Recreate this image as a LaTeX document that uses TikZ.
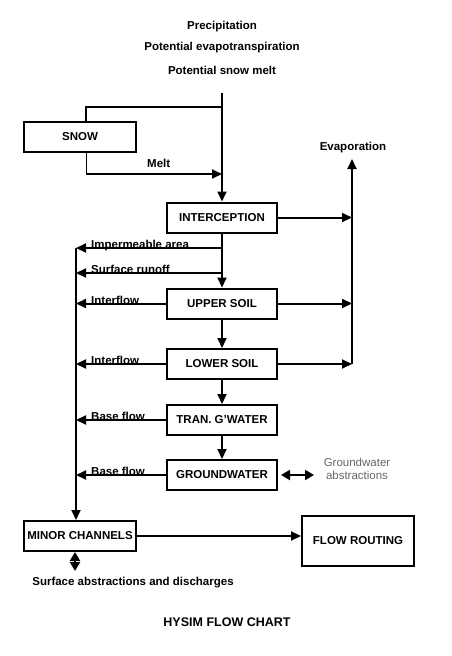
\documentclass[tikz,border=0pt]{standalone}
\usepackage{fontspec}
\setmainfont{Liberation Sans}
\usepackage{xcolor}
\usepackage{tikz}
\usetikzlibrary{arrows.meta}

\begin{document}
\begin{tikzpicture}[x=1pt,y=-1pt]
		\tikzstyle{every node}=[font=\fontsize{11.5}{13}\selectfont\bfseries]
		\tikzstyle{box}=[draw, line width=2pt, minimum width=110pt, minimum height=30pt, inner sep=0pt]
		\tikzstyle{flow}=[line width=2pt, -{Triangle[length=10pt,width=9pt]}]
		\tikzstyle{both}=[line width=2pt, {Triangle[length=9pt,width=10pt]}-{Triangle[length=9pt,width=10pt]}]
		\tikzstyle{lbl}=[inner sep=0pt, anchor=base west]
		\useasboundingbox (0,0) rectangle (452,656);

		\node (precip) at (222,27) {Precipitation};
		\node (pet) at (222,48) {Potential evapotranspiration};
		\node (psm) at (222,70) {Potential snow melt};

		\node [box, minimum width=112pt] (snow) at (80,137) {SNOW};
		\node [box] (intercept) at (222,217.5) {INTERCEPTION};
		\node [box] (upper) at (222,303.5) {UPPER SOIL};
		\node [box] (lower) at (222,364) {LOWER SOIL};
		\node [box] (tran) at (222,420) {TRAN. G'WATER};
		\node [box] (ground) at (222,475) {GROUNDWATER};
		\node [box, minimum width=112pt] (minor) at (80,536) {MINOR CHANNELS};
		\node [box, minimum width=112pt, minimum height=50pt] (routing) at (358,541) {FLOW ROUTING};

		\coordinate (top) at (222,93);
		\coordinate (split) at (222,107);
		\coordinate (evap) at (352,159);
		\coordinate (coll) at (76,248);
		\coordinate (imp) at (222,248);
		\coordinate (sro) at (222,273);

		\draw [flow] (top) -- (intercept);
		\draw [line width=2pt] (split) -| ([xshift=6]snow.north);
		\draw [line width=1pt] ([xshift=6]snow.south) -- ++(0,21) coordinate (meltc);
		\draw [flow] (meltc) -- (meltc -| top);
		\node [lbl] (melt) at (147,167) {Melt};

		\draw [flow] (lower -| evap) -- (evap);
		\node (evaptxt) at (353,148) {Evaporation};
		\draw [flow] (intercept) -- (intercept -| evap);
		\draw [flow] (upper) -- (upper -| evap);
		\draw [flow] (lower) -- (lower -| evap);

		\draw [flow] (intercept) -- (upper);
		\draw [flow] (upper) -- (lower);
		\draw [flow] (lower) -- (tran);
		\draw [flow] (tran) -- (ground);

		\draw [flow] (imp) -- (coll);
		\draw [flow] (sro) -- (sro -| coll);
		\draw [flow] (upper) -- (upper -| coll);
		\draw [flow] (lower) -- (lower -| coll);
		\draw [flow] (tran) -- (tran -| coll);
		\draw [flow] (ground) -- (ground -| coll);
		\draw [flow] (coll) -- (minor.north -| coll);
		\node [lbl] (imptxt) at (91,248) {Impermeable area};
		\node [lbl] (srotxt) at (91,273) {Surface runoff};
		\node [lbl] (iftxta) at (91,304) {Interflow};
		\node [lbl] (iftxtb) at (91,364) {Interflow};
		\node [lbl] (bftxta) at (91,420) {Base flow};
		\node [lbl] (bftxtb) at (91,475) {Base flow};

		\draw [both] ([xshift=3]ground.east) -- ++(33,0);
		\node [font=\fontsize{11.5}{13}\selectfont, text=black!60, align=center] (gwabs) at (357,468.5) {Groundwater\\abstractions};

		\draw [flow] (minor.east) -- (minor.east -| routing.west);
		\draw [both] ([xshift=-5]minor.south) -- ++(0,19);
		\node (surfabs) at (133,583) {Surface abstractions and discharges};

		\node [font=\fontsize{12.5}{14}\selectfont\bfseries] (title) at (227,622) {HYSIM FLOW CHART};

	\end{tikzpicture}
\end{document}
